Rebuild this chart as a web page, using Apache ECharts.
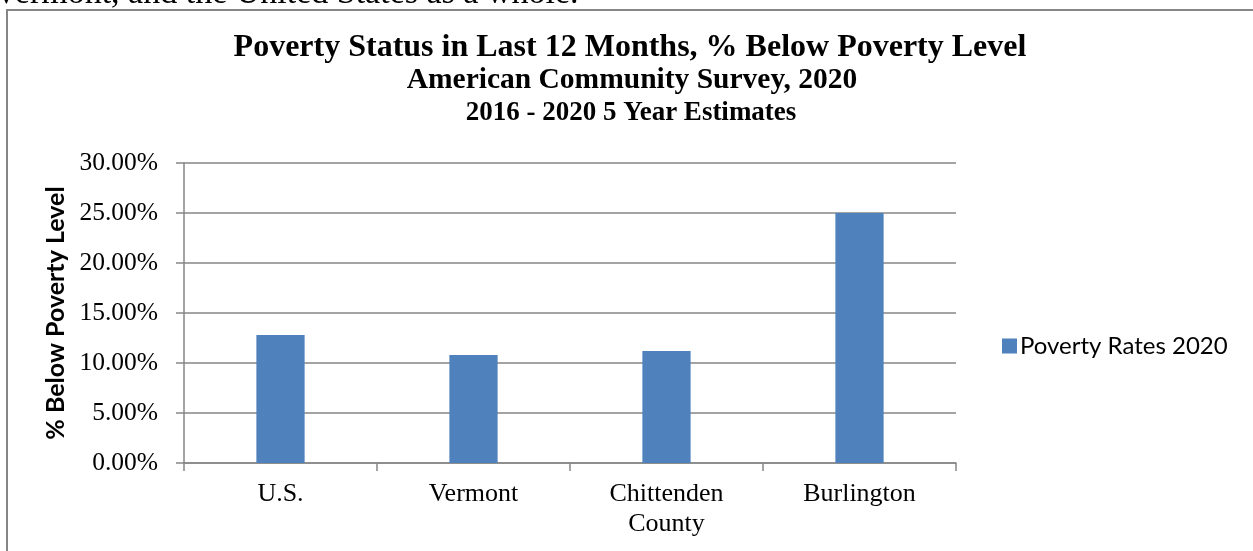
<!DOCTYPE html>
<html>
<head>
<meta charset="utf-8">
<title>Poverty Status in Last 12 Months</title>
<script src="https://cdn.jsdelivr.net/npm/echarts@6/dist/echarts.min.js"></script>
<style>
  html, body { margin: 0; padding: 0; background: #ffffff; }
  #chart { width: 1253px; height: 551px; }
</style>
</head>
<body>
<div id="chart"></div>
<script>
// Places compared and their share of people below the poverty level
const places = ['U.S.', 'Vermont', 'Chittenden\nCounty', 'Burlington'];
const povertyRates2020 = [0.128, 0.108, 0.112, 0.250];
const seriesName = 'Poverty Rates 2020';
const titleLines = [
  'Poverty Status in Last 12 Months, % Below Poverty Level',
  'American Community Survey, 2020',
  '2016 - 2020 5 Year Estimates'
];
const yAxisTitle = '% Below Poverty Level';
const leadText = 'Vermont, and the United States as a whole.';

const serif = '"Liberation Serif", "Times New Roman", serif';
const sans = 'Lato, "Open Sans", sans-serif';
const gray = '#868686';
const barBlue = '#4F81BD';

const chart = echarts.init(document.getElementById('chart'), null, { renderer: 'canvas' });

chart.setOption({
  animation: false,
  backgroundColor: '#ffffff',
  graphic: [
    // sentence from the surrounding text, cut by the top edge
    { type: 'text', x: -6, y: -6, style: { text: leadText, font: '34px ' + serif, fill: '#000', align: 'left', verticalAlign: 'middle' } },
    // chart frame
    { type: 'rect', shape: { x: 7, y: 10, width: 1247, height: 560 },
      style: { fill: '#fff', stroke: gray, lineWidth: 2 }, silent: true, z: -1 },
    { type: 'text', x: 630, y: 48, style: { text: titleLines[0], font: 'bold 32px ' + serif, fill: '#000', align: 'center', verticalAlign: 'middle' } },
    { type: 'text', x: 632, y: 80, style: { text: titleLines[1], font: 'bold 29.5px ' + serif, fill: '#000', align: 'center', verticalAlign: 'middle' } },
    { type: 'text', x: 631, y: 113, style: { text: titleLines[2], font: 'bold 27px ' + serif, fill: '#000', align: 'center', verticalAlign: 'middle' } }
  ],
  legend: {
    data: [seriesName],
    orient: 'vertical',
    left: 997,
    top: 329,
    itemWidth: 15,
    itemHeight: 15,
    itemGap: 8,
    textStyle: { fontFamily: sans, fontSize: 24, color: '#000', padding: [0, 0, 0, -2] },
    icon: 'rect'
  },
  grid: { left: 184, right: 297, top: 163, bottom: 88, containLabel: false },
  xAxis: {
    type: 'category',
    data: places,
    axisLine: { show: true, lineStyle: { color: gray, width: 1.5 } },
    axisTick: { show: true, alignWithLabel: false, length: 8, lineStyle: { color: gray, width: 1.5 } },
    axisLabel: { fontFamily: serif, fontSize: 26, color: '#000', margin: 16, lineHeight: 30, interval: 0 }
  },
  yAxis: {
    type: 'value',
    min: 0,
    max: 0.30,
    interval: 0.05,
    name: yAxisTitle,
    nameLocation: 'middle',
    nameGap: 113,
    nameRotate: 90,
    nameTextStyle: { fontFamily: sans, fontWeight: 'bold', fontSize: 25, color: '#000' },
    axisLine: { show: true, lineStyle: { color: gray, width: 1.5 } },
    axisTick: { show: true, length: 8, lineStyle: { color: gray, width: 1.5 } },
    splitLine: { show: true, lineStyle: { color: gray, width: 1.5 } },
    axisLabel: {
      fontFamily: serif, fontSize: 25.5, color: '#000', margin: 26,
      formatter: v => (v * 100).toFixed(2) + '%'
    }
  },
  series: [{
    name: seriesName,
    type: 'bar',
    data: povertyRates2020,
    barWidth: '25%',
    itemStyle: { color: barBlue }
  }]
});
</script>
</body>
</html>
